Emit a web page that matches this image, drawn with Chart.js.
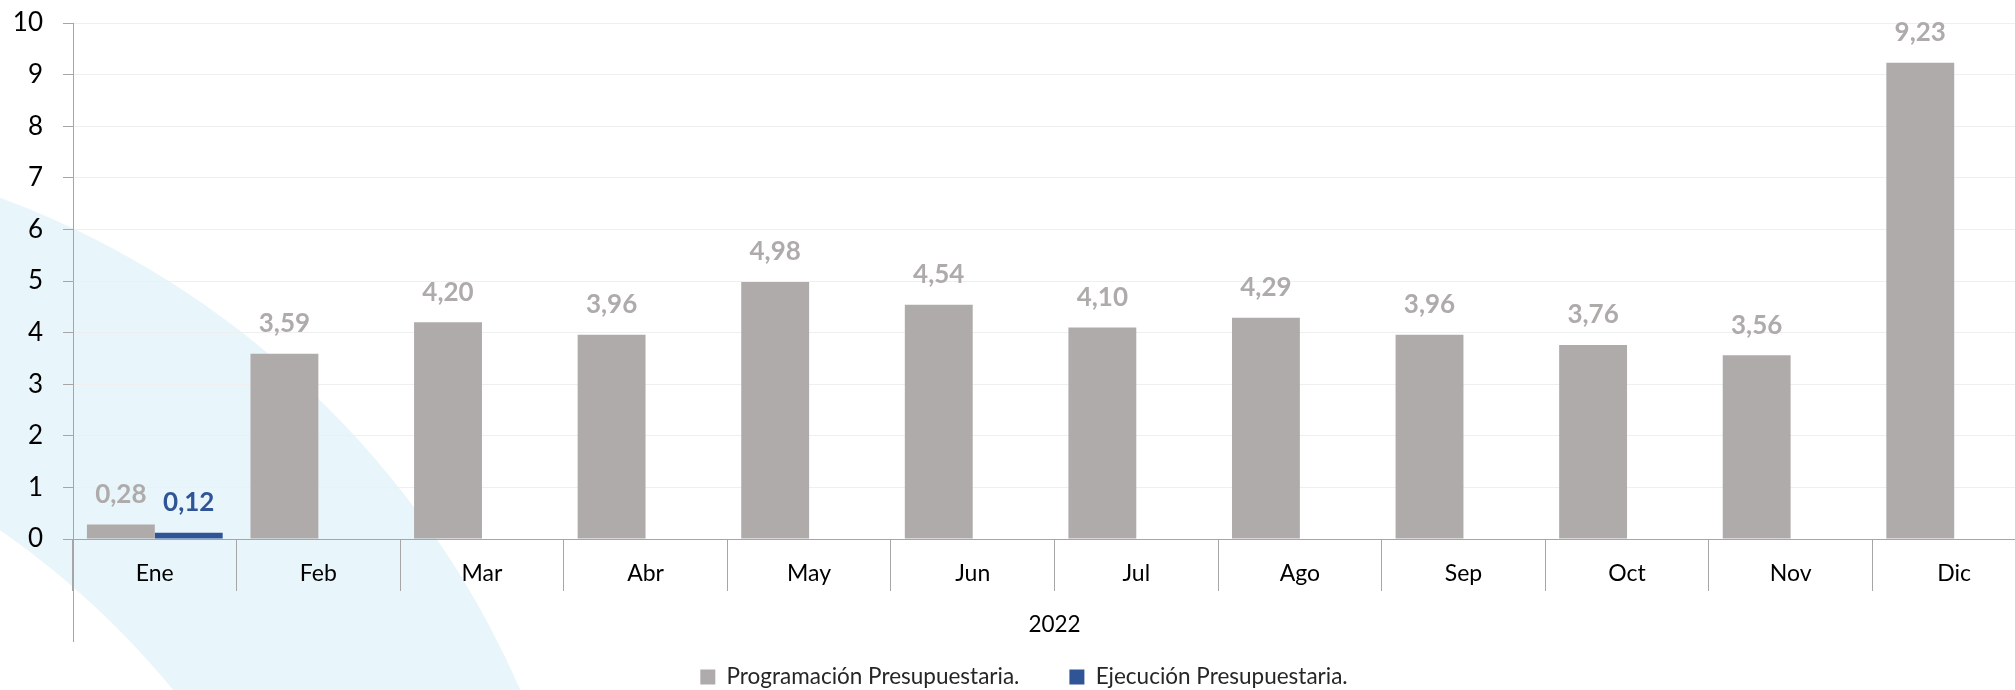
<!DOCTYPE html>
<html lang="es">
<head>
<meta charset="utf-8">
<title>Programación y Ejecución Presupuestaria 2022</title>
<script src="https://cdn.jsdelivr.net/npm/chart.js@4.4.1/dist/chart.umd.min.js"></script>
<style>
  html, body { margin: 0; padding: 0; background: #fff; overflow: hidden; }
  #wrap { width: 2036px; height: 690px; }
</style>
</head>
<body>
<div id="wrap"><canvas id="grafico" width="2036" height="690"></canvas></div>
<script>
const meses = ['Ene', 'Feb', 'Mar', 'Abr', 'May', 'Jun', 'Jul', 'Ago', 'Sep', 'Oct', 'Nov', 'Dic'];
const programacion = [0.28, 3.59, 4.20, 3.96, 4.98, 4.54, 4.10, 4.29, 3.96, 3.76, 3.56, 9.23];
const ejecucion = [0.12, null, null, null, null, null, null, null, null, null, null, null];
const anio = '2022';
const yMin = 0, yMax = 10, yPaso = 1;

const GRIS = '#AFABAB';
const AZUL = '#2F5597';
const EJE = '#A6A6A6';

Chart.defaults.font.family = 'Lato';

// franja celeste decorativa del fondo
const fondo = {
  id: 'fondo',
  beforeDraw(chart) {
    const ctx = chart.ctx;
    ctx.save();
    ctx.fillStyle = '#fff';
    ctx.fillRect(0, 0, chart.width, chart.height);
    ctx.fillStyle = '#E8F5FA';
    ctx.beginPath(); ctx.arc(-320, 1057, 917, 0, Math.PI * 2); ctx.fill();
    ctx.fillStyle = '#fff';
    ctx.beginPath(); ctx.arc(-493, 1237, 862, 0, Math.PI * 2); ctx.fill();
    ctx.restore();
  }
};

// valores encima de las barras, con coma decimal
const etiquetas = {
  id: 'etiquetas',
  afterDatasetsDraw(chart) {
    const ctx = chart.ctx;
    ctx.save();
    ctx.font = 'bold 26px Lato';
    ctx.textAlign = 'center';
    ctx.textBaseline = 'middle';
    chart.data.datasets.forEach((ds, i) => {
      chart.getDatasetMeta(i).data.forEach((bar, j) => {
        const v = ds.data[j];
        if (v == null) return;
        ctx.fillStyle = ds.backgroundColor;
        ctx.fillText(v.toFixed(2).replace('.', ','), bar.x, bar.y - 30);
      });
    });
    ctx.restore();
  }
};

// el eje vertical baja hasta debajo del nivel del año
const ejeLargo = {
  id: 'ejeLargo',
  afterDraw(chart) {
    const ctx = chart.ctx, a = chart.chartArea;
    const x = Math.round(a.left) + 0.5;
    ctx.save();
    ctx.strokeStyle = EJE;
    ctx.lineWidth = 1;
    ctx.beginPath();
    ctx.moveTo(x, a.bottom);
    ctx.lineTo(x, a.bottom + 103);
    ctx.stroke();
    ctx.restore();
  }
};

new Chart(document.getElementById('grafico'), {
  type: 'bar',
  data: {
    labels: meses,
    datasets: [
      { label: 'Programación Presupuestaria.', data: programacion, backgroundColor: GRIS },
      { label: 'Ejecución Presupuestaria.', data: ejecucion, backgroundColor: AZUL }
    ]
  },
  options: {
    responsive: false,
    animation: false,
    devicePixelRatio: 1,
    categoryPercentage: 0.83,
    barPercentage: 1,
    layout: { padding: { left: 12, right: 0, top: 23, bottom: -8.25 } },
    plugins: {
      legend: {
        position: 'bottom',
        labels: { boxWidth: 15, boxHeight: 15, padding: 50, color: '#262626', font: { size: 22.5 } }
      },
      tooltip: { enabled: false }
    },
    scales: {
      x: {
        grid: { drawOnChartArea: false, tickLength: 52, color: EJE, tickColor: EJE },
        border: { color: EJE },
        ticks: { padding: -30.8, color: '#000', font: { size: 23 }, autoSkip: false, maxRotation: 0 },
        title: { display: true, text: anio, color: '#000', font: { size: 22.5 }, padding: { top: 0, bottom: -22.75 } },
        afterFit: s => { s.height = 76.75; }
      },
      y: {
        min: yMin,
        max: yMax,
        ticks: { stepSize: yPaso, padding: 20, color: '#000', font: { size: 26 } },
        grid: { color: '#EFEFEF', tickLength: 10, tickColor: EJE },
        border: { color: EJE },
        afterFit: s => { s.width = 61; s.paddingTop = 0; s.paddingBottom = 0; }
      }
    }
  },
  plugins: [fondo, etiquetas, ejeLargo]
});
</script>
</body>
</html>
